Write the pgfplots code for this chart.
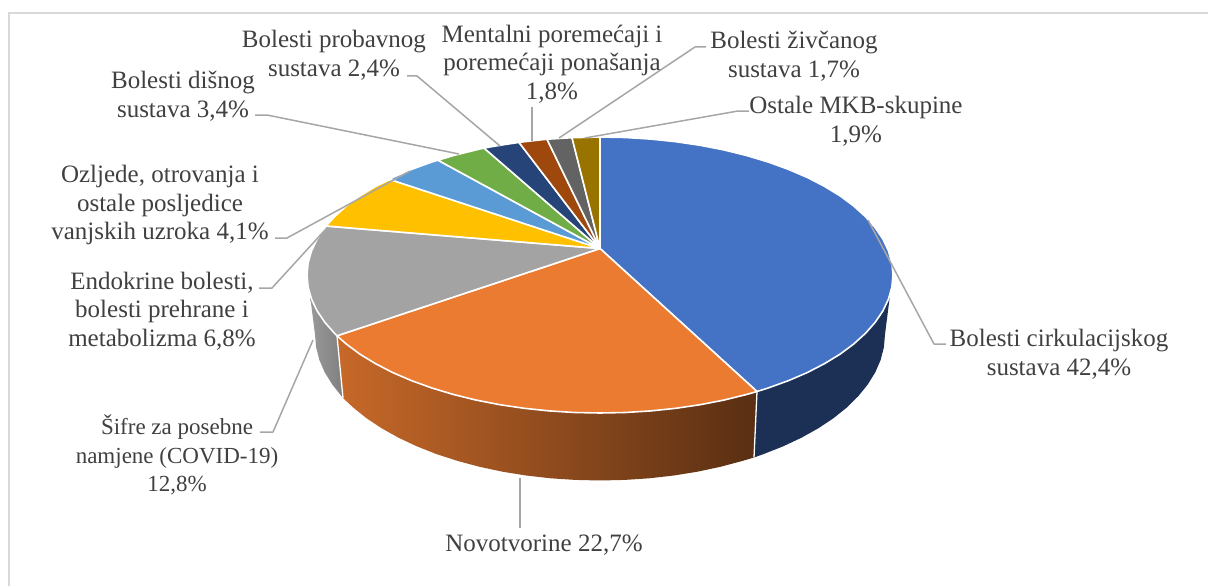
\documentclass[border=0pt]{standalone}
\usepackage{fontspec}
\setmainfont{Liberation Serif}
\usepackage{pgfplots}
\pgfplotsset{compat=1.18}

\definecolor{cBlue}{HTML}{4472C4}
\definecolor{cOrange}{HTML}{EA7B30}
\definecolor{cGray}{HTML}{A3A3A3}
\definecolor{cYellow}{HTML}{FFC000}
\definecolor{cSky}{HTML}{5B9BD5}
\definecolor{cGreen}{HTML}{70AD47}
\definecolor{cNavy}{HTML}{264478}
\definecolor{cBrown}{HTML}{9E480E}
\definecolor{cDark}{HTML}{636363}
\definecolor{cGold}{HTML}{997300}
\definecolor{cLead}{HTML}{A6A6A6}
\definecolor{cText}{HTML}{404040}

\tikzset{
  face/.style={draw=white, line width=1.6pt, line join=round},
  lead/.style={draw=cLead, line width=1.5pt, line join=round},
  lab/.style={text=cText, align=center, inner sep=0pt, yshift=-2pt, font=\fontsize{25}{28.5}\selectfont},
}

\begin{document}
\begin{tikzpicture}
\useasboundingbox (0,0) rectangle (1208pt,586pt);
\begin{axis}[
  at={(0,0)}, anchor=south west,
  scale only axis, width=1208pt, height=586pt,
  xmin=0, xmax=1208, ymin=0, ymax=586, y dir=reverse,
  hide axis, clip=false,
]
% frame, left and top only
\addplot[draw=black!15, line width=1.5pt] coordinates {(9,586) (9,13) (1208,13)};

% sides of the disc
\addplot[draw=none, left color=black!40, right color=black!50] coordinates {
  (337,335.8) (334.5,333.3) (324.7,322.2) (317,310.7) (310,295)
  (315,334.5) (316.1,347.2) (319.3,359.8) (324.7,372.3) (332.2,384.4) (343,398)
} -- cycle;
\addplot[draw=none, left color=cOrange!85!black, right color=cOrange!38!black] coordinates {
  (757,391.5) (746.5,394.5) (723.8,400.1) (700.2,404.7) (675.8,408.3) (650.9,410.9) (625.5,412.5) (600,413)
  (574.5,412.5) (549.1,410.9) (524.2,408.3) (499.8,404.7) (476.2,400.1) (453.5,394.5) (431.9,388) (411.7,380.7)
  (392.8,372.6) (375.6,363.7) (360,354.2) (346.3,344) (337,335.8)
  (343,398) (353.2,407.5) (366.5,418.2) (381.7,428.3) (398.5,437.7) (416.8,446.3) (436.5,454.1) (457.5,460.9)
  (479.6,466.8) (502.5,471.7) (526.2,475.5) (550.5,478.3) (575.1,479.9) (600,480.5) (624.9,479.9) (649.5,478.3)
  (673.8,475.5) (697.5,471.7) (720.4,466.8) (742.5,460.9) (754,457.5)
} -- cycle;
\addplot[fill=cNavy!70!black, draw=none] coordinates {
  (890,295) (888.5,299) (883,310.7) (875.3,322.2) (865.5,333.3) (853.7,344) (840,354.2) (824.4,363.7)
  (807.2,372.6) (788.3,380.7) (768.1,388) (757,391.5)
  (754,457.5) (763.5,454.1) (783.2,446.3) (801.5,437.7) (818.3,428.3) (833.5,418.2) (846.8,407.5) (858.3,396.2)
  (867.8,384.4) (875.3,372.3) (880.7,359.8) (883.9,347.2) (885,334.5)
} -- cycle;
\addplot[draw=white, line width=1.3pt] coordinates {(757,391.5) (754,457.5)};
\addplot[draw=white, line width=1.3pt] coordinates {(337,335.8) (343,398)};

% top face
\addplot[face, fill=cBlue] coordinates {
  (600,248.5) (600,137) (625.5,137.5) (650.9,139.1) (675.8,141.7) (700.2,145.3) (723.8,149.9) (746.5,155.5)
  (768.1,162) (788.3,169.3) (807.2,177.4) (824.4,186.3) (840,195.8) (853.7,206) (865.5,216.7) (875.3,227.8)
  (883,239.3) (888.5,251) (891.9,263) (893,275) (891.9,287) (888.5,299) (883,310.7) (875.3,322.2) (865.5,333.3)
  (853.7,344) (840,354.2) (824.4,363.7) (807.2,372.6) (788.3,380.7) (768.1,388) (757,391.5)
} -- cycle;
\addplot[face, fill=cOrange] coordinates {
  (600,248.5) (757,391.5) (746.5,394.5) (723.8,400.1) (700.2,404.7) (675.8,408.3) (650.9,410.9) (625.5,412.5)
  (600,413) (574.5,412.5) (549.1,410.9) (524.2,408.3) (499.8,404.7) (476.2,400.1) (453.5,394.5) (431.9,388)
  (411.7,380.7) (392.8,372.6) (375.6,363.7) (360,354.2) (346.3,344) (337,335.8)
} -- cycle;
\addplot[face, fill=cGray] coordinates {
  (600,248.5) (337,335.8) (334.5,333.3) (324.7,322.2) (317,310.7) (311.5,299) (308.1,287) (307,275) (308.1,263)
  (311.5,251) (317,239.3) (326,226)
} -- cycle;
\addplot[face, fill=cYellow] coordinates {
  (600,248.5) (326,226) (334.5,216.7) (346.3,206) (360,195.8) (375.6,186.3) (390,179.5)
} -- cycle;
\addplot[face, fill=cSky] coordinates {
  (600,248.5) (390,179.5) (392.8,177.4) (411.7,169.3) (431.9,162) (438,160.2)
} -- cycle;
\addplot[face, fill=cGreen] coordinates {
  (600,248.5) (438,160.2) (453.5,155.5) (476.2,149.9) (484,148)
} -- cycle;
\addplot[face, fill=cNavy] coordinates {(600,248.5) (484,148) (499.8,145.3) (519,142.4)} -- cycle;
\addplot[face, fill=cBrown] coordinates {(600,248.5) (519,142.4) (524.2,141.7) (547,139.2)} -- cycle;
\addplot[face, fill=cDark] coordinates {(600,248.5) (547,139.2) (572,137.7)} -- cycle;
\addplot[face, fill=cGold] coordinates {(600,248.5) (572,137.7) (600,137)} -- cycle;

% leader lines
\addplot[lead] coordinates {(946,344) (934,344) (868,220)};
\addplot[lead] coordinates {(520,478) (520,528)};
\addplot[lead] coordinates {(260,432) (273,432) (313,340)};
\addplot[lead] coordinates {(259,288) (272,288) (325,230)};
\addplot[lead] coordinates {(275,238) (287,238) (410,171)};
\addplot[lead] coordinates {(255,115) (267,115) (459,154)};
\addplot[lead] coordinates {(407,76) (417,76) (500,146)};
\addplot[lead] coordinates {(532,107) (532,141)};
\addplot[lead] coordinates {(706,47) (695,47) (559,138)};
\addplot[lead] coordinates {(749,111) (738,111) (585,138)};

% labels
\node[lab] at (axis cs:1059,352) {Bolesti cirkulacijskog\\sustava 42,4\%};
\node[lab] at (axis cs:544,543) {Novotvorine 22,7\%};
\node[lab, font=\fontsize{23}{28.5}\selectfont] at (axis cs:177,453) {Šifre za posebne\\namjene (COVID-19)\\12,8\%};
\node[lab] at (axis cs:162,309) {Endokrine bolesti,\\bolesti prehrane i\\metabolizma 6,8\%};
\node[lab] at (axis cs:160,203) {Ozljede, otrovanja i\\ostale posljedice\\vanjskih uzroka 4,1\%};
\node[lab] at (axis cs:183,94) {Bolesti dišnog\\sustava 3,4\%};
\node[lab] at (axis cs:334,53) {Bolesti probavnog\\sustava 2,4\%};
\node[lab] at (axis cs:552,62) {Mentalni poremećaji i\\poremećaji ponašanja\\1,8\%};
\node[lab] at (axis cs:794,54) {Bolesti živčanog\\sustava 1,7\%};
\node[lab] at (axis cs:856,119) {Ostale MKB-skupine\\1,9\%};
\end{axis}
\end{tikzpicture}
\end{document}
